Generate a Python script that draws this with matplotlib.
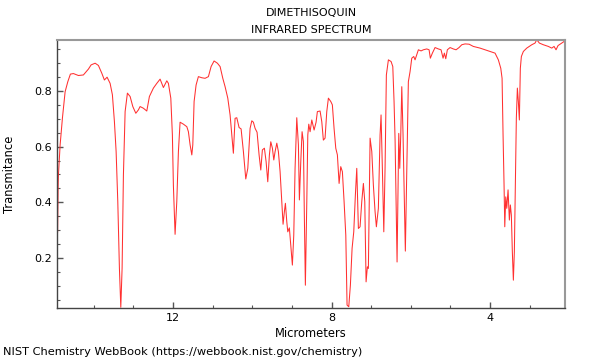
import matplotlib
matplotlib.use("Agg")
import matplotlib.pyplot as plt
from matplotlib.ticker import MultipleLocator

title_lines = ["DIMETHISOQUIN", "INFRARED SPECTRUM"]
x_label = "Micrometers"
y_label = "Transmitance"
footer = "NIST Chemistry WebBook (https://webbook.nist.gov/chemistry)"
x_ticks = [12, 8, 4]
y_ticks = [0.2, 0.4, 0.6, 0.8]

wavelength_um = [
    14.915, 14.902, 14.894, 14.851, 14.793, 14.725, 14.657, 14.592, 14.516, 14.390,
    14.264, 14.137, 14.069, 13.968, 13.885, 13.799, 13.734, 13.666, 13.590, 13.532,
    13.481, 13.438, 13.396, 13.355, 13.320, 13.287, 13.254, 13.211, 13.153, 13.085,
    13.017, 12.941, 12.876, 12.833, 12.750, 12.664, 12.598, 12.497, 12.411, 12.328,
    12.245, 12.159, 12.119, 12.058, 12.018, 11.993, 11.950, 11.907, 11.866, 11.824,
    11.740, 11.654, 11.614, 11.571, 11.528, 11.503, 11.470, 11.420, 11.362, 11.276,
    11.193, 11.109, 11.041, 10.966, 10.882, 10.814, 10.746, 10.688, 10.620, 10.562,
    10.519, 10.479, 10.436, 10.393, 10.335, 10.284, 10.226, 10.166, 10.115, 10.057,
    10.014, 9.974, 9.931, 9.881, 9.830, 9.787, 9.747, 9.696, 9.653, 9.611,
    9.570, 9.535, 9.494, 9.459, 9.426, 9.383, 9.343, 9.300, 9.257, 9.225,
    9.192, 9.166, 9.131, 9.106, 9.066, 9.030, 8.990, 8.955, 8.922, 8.879,
    8.838, 8.813, 8.778, 8.745, 8.712, 8.687, 8.662, 8.626, 8.601, 8.576,
    8.543, 8.500, 8.442, 8.392, 8.359, 8.291, 8.248, 8.208, 8.165, 8.122,
    8.081, 8.021, 7.981, 7.938, 7.895, 7.854, 7.811, 7.769, 7.728, 7.685,
    7.642, 7.610, 7.567, 7.526, 7.483, 7.441, 7.400, 7.365, 7.324, 7.282,
    7.239, 7.198, 7.163, 7.130, 7.097, 7.072, 7.029, 6.986, 6.946, 6.903,
    6.870, 6.820, 6.777, 6.752, 6.719, 6.683, 6.651, 6.618, 6.567, 6.499,
    6.456, 6.424, 6.398, 6.373, 6.348, 6.323, 6.305, 6.280, 6.255, 6.229,
    6.197, 6.164, 6.139, 6.103, 6.063, 6.020, 5.977, 5.927, 5.894, 5.851,
    5.810, 5.742, 5.684, 5.599, 5.540, 5.508, 5.457, 5.389, 5.306, 5.238,
    5.187, 5.154, 5.119, 5.079, 5.011, 4.927, 4.859, 4.784, 4.715, 4.632,
    4.531, 4.423, 4.337, 4.254, 4.127, 4.001, 3.875, 3.792, 3.731, 3.698,
    3.673, 3.648, 3.630, 3.605, 3.580, 3.547, 3.514, 3.489, 3.464, 3.439,
    3.413, 3.388, 3.363, 3.338, 3.312, 3.287, 3.262, 3.237, 3.211, 3.161,
    3.075, 2.949, 2.866, 2.823, 2.757, 2.656, 2.530, 2.444, 2.386, 2.336,
    2.286, 2.192, 2.109,
]

transmittance = [
    0.294, 0.452, 0.498, 0.606, 0.702, 0.796, 0.832, 0.859, 0.861, 0.854,
    0.856, 0.877, 0.892, 0.898, 0.890, 0.862, 0.838, 0.848, 0.826, 0.785,
    0.689, 0.582, 0.403, 0.165, 0.025, 0.165, 0.498, 0.725, 0.791, 0.779,
    0.743, 0.719, 0.731, 0.743, 0.737, 0.727, 0.779, 0.809, 0.826, 0.841,
    0.811, 0.835, 0.826, 0.773, 0.641, 0.462, 0.286, 0.403, 0.582, 0.687,
    0.680, 0.671, 0.653, 0.606, 0.570, 0.606, 0.761, 0.820, 0.850, 0.846,
    0.844, 0.850, 0.886, 0.906, 0.898, 0.886, 0.844, 0.814, 0.773, 0.713,
    0.641, 0.576, 0.701, 0.703, 0.668, 0.663, 0.582, 0.484, 0.522, 0.665,
    0.692, 0.687, 0.665, 0.651, 0.570, 0.516, 0.588, 0.594, 0.546, 0.474,
    0.570, 0.617, 0.594, 0.552, 0.582, 0.612, 0.582, 0.510, 0.403, 0.322,
    0.367, 0.397, 0.331, 0.295, 0.309, 0.248, 0.176, 0.283, 0.522, 0.703,
    0.606, 0.409, 0.546, 0.653, 0.617, 0.343, 0.104, 0.403, 0.641, 0.680,
    0.653, 0.695, 0.659, 0.687, 0.725, 0.727, 0.689, 0.623, 0.630, 0.725,
    0.773, 0.761, 0.749, 0.665, 0.594, 0.570, 0.468, 0.528, 0.510, 0.403,
    0.283, 0.033, 0.027, 0.104, 0.236, 0.295, 0.427, 0.522, 0.307, 0.313,
    0.403, 0.468, 0.403, 0.116, 0.170, 0.164, 0.630, 0.582, 0.462, 0.367,
    0.313, 0.379, 0.641, 0.713, 0.522, 0.295, 0.522, 0.856, 0.910, 0.904,
    0.886, 0.761, 0.623, 0.403, 0.187, 0.462, 0.647, 0.522, 0.641, 0.814,
    0.641, 0.403, 0.226, 0.522, 0.832, 0.868, 0.916, 0.922, 0.910, 0.928,
    0.946, 0.942, 0.946, 0.949, 0.946, 0.916, 0.934, 0.954, 0.949, 0.946,
    0.916, 0.934, 0.914, 0.946, 0.954, 0.949, 0.946, 0.954, 0.964, 0.967,
    0.966, 0.958, 0.955, 0.952, 0.946, 0.940, 0.934, 0.910, 0.880, 0.844,
    0.641, 0.462, 0.313, 0.420, 0.379, 0.445, 0.337, 0.391, 0.355, 0.224,
    0.122, 0.224, 0.462, 0.701, 0.809, 0.761, 0.695, 0.880, 0.922, 0.940,
    0.952, 0.964, 0.970, 0.982, 0.970, 0.964, 0.958, 0.952, 0.958, 0.946,
    0.961, 0.970, 0.978,
]

plt.rcParams['font.family'] = ['DejaVu Sans']

fig = plt.figure(figsize=(6, 3.6), dpi=100)
ax = fig.add_axes([57 / 600, 1 - 308 / 360, 508 / 600, 268 / 360])

ax.plot(wavelength_um, transmittance, color='#ff3030', lw=0.75)

ax.set_xlim(14.93, 2.11)
ax.set_ylim(0.0225, 0.981)

ax.set_xticks(x_ticks)
ax.set_yticks(y_ticks)
ax.xaxis.set_minor_locator(MultipleLocator(1))
ax.yaxis.set_minor_locator(MultipleLocator(0.05))
ax.tick_params(which='both', direction='in', colors='#555555', labelcolor='black',
               labelsize=8, top=False, right=False)
ax.tick_params(which='major', length=4, width=1)
ax.tick_params(which='minor', length=2.5, width=0.8)

for side in ['left', 'bottom']:
    ax.spines[side].set_color('#444444')
    ax.spines[side].set_linewidth(1)
for side in ['top', 'right']:
    ax.spines[side].set_color('#999999')
    ax.spines[side].set_linewidth(1.5)

ax.set_xlabel(x_label, fontsize=8.3, labelpad=3)
ax.set_ylabel(y_label, fontsize=8.3, labelpad=13)

fig.text(311 / 600, 1 - 13 / 360, title_lines[0], fontsize=8, ha='center', va='center')
fig.text(311 / 600, 1 - 30 / 360, title_lines[1], fontsize=8, ha='center', va='center')

fig.text(3 / 600, 1 - 352 / 360, footer, fontsize=8.2, ha='left', va='center')

fig.savefig("out.png", dpi=100)
